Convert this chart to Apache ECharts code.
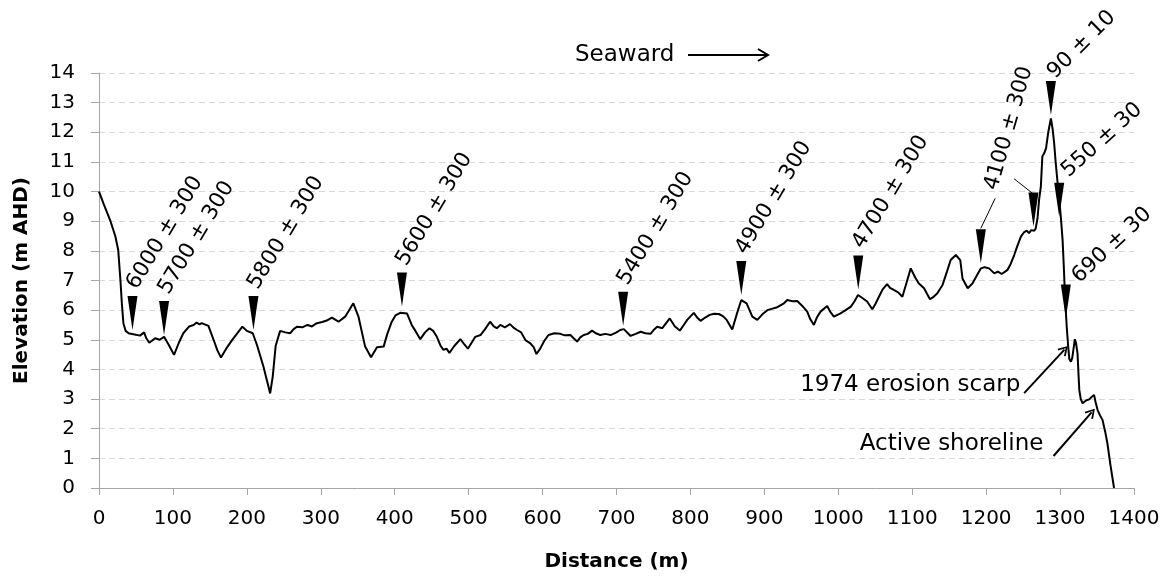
<!DOCTYPE html>
<html><head><meta charset="utf-8">
<script src="https://cdn.jsdelivr.net/npm/echarts@6/dist/echarts.min.js"></script>
<style>html,body{margin:0;padding:0;background:#fff}#c{width:1168px;height:577px}</style>
</head><body><div id="c"></div>
<script>
// Profile: distance (m) and elevation (m AHD)
const distance = [0,6,15,22,26,29,31,33,36,40,48,55.5,61,64,68,76,82,88,95,101.5,108,114,122,128,132,136,139,143,148,155,160,165,172,180,188,194,200,208,214,222.5,227,231.5,235,239,245,252,258.6,263,267.6,275,282,288,294.7,302,308,315,324,333,344,351,360,368,376,385,390,396,401,407.5,416.6,423,428,434.6,441,447,452,457,462,466,470,474,480.6,488.8,494,499,504,509,516,522,529,534,538,543,549,556,561,565.5,571,576.8,583.5,588,591.7,597,602,608,616,624,630,637.7,642,646.8,651,655.7,661,667,672,678,685,692,700,705,710,719,726,732.7,739,746,751,755,762,772,779,785.7,791,795.6,804.6,809,813.7,820,826,832,838.5,844,849,856.6,863,868.8,876,883.7,890.5,897,904,911,917.5,926.5,931,938,944.5,951,958,962,967,971,976,985,989,994,1003,1010,1017,1022,1026.7,1033,1039,1046,1050,1055,1060,1066,1070,1075,1081,1086.7,1092,1098,1104,1109,1116,1120,1124,1129,1134,1141,1147,1152,1159,1165,1168,1175,1181.5,1187,1193,1198,1204,1211,1216,1221,1229,1233,1238,1242,1247,1251,1255,1258,1261,1265,1267,1269.5,1271.6,1274,1276,1278.6,1281,1284,1287.6,1290,1292,1294,1296.7,1299,1301,1303.4,1305,1306.5,1309,1311,1312.5,1314.7,1316.5,1318,1320,1321.5,1323.6,1325,1326,1328,1330.5,1335,1339.4,1343,1346,1348,1350.8,1354,1357.5,1361,1364,1368,1373];
const elevation = [10.0,9.6,9.04,8.5,8.03,7.0,6.2,5.56,5.3,5.22,5.18,5.14,5.25,5.05,4.9,5.05,5.0,5.1,4.8,4.49,4.9,5.22,5.45,5.5,5.58,5.52,5.56,5.52,5.47,5.0,4.65,4.4,4.7,4.99,5.25,5.44,5.3,5.22,4.8,4.09,3.64,3.19,3.76,4.8,5.3,5.25,5.22,5.35,5.44,5.42,5.5,5.45,5.56,5.6,5.65,5.75,5.61,5.78,6.23,5.78,4.77,4.41,4.75,4.77,5.2,5.61,5.82,5.91,5.89,5.5,5.3,5.02,5.25,5.39,5.3,5.1,4.8,4.66,4.7,4.56,4.79,5.02,4.85,4.7,4.9,5.1,5.16,5.35,5.61,5.45,5.39,5.5,5.42,5.53,5.4,5.33,5.25,4.99,4.88,4.75,4.52,4.71,4.95,5.16,5.22,5.2,5.15,5.16,5.05,4.94,5.08,5.16,5.2,5.31,5.22,5.16,5.2,5.16,5.25,5.33,5.36,5.13,5.2,5.27,5.22,5.2,5.35,5.44,5.39,5.72,5.45,5.31,5.5,5.67,5.91,5.75,5.64,5.75,5.84,5.88,5.87,5.8,5.67,5.35,5.89,6.34,6.23,5.78,5.67,5.85,6.0,6.05,6.1,6.23,6.34,6.3,6.31,6.15,5.95,5.7,5.5,5.75,5.95,6.14,5.95,5.78,5.89,6.0,6.12,6.3,6.51,6.4,6.29,6.03,6.2,6.45,6.7,6.88,6.75,6.68,6.6,6.45,6.9,7.41,7.1,6.9,6.74,6.55,6.37,6.45,6.57,6.85,7.3,7.69,7.86,7.69,7.07,6.74,6.9,7.15,7.41,7.45,7.41,7.24,7.3,7.22,7.36,7.55,7.86,8.15,8.48,8.62,8.68,8.6,8.7,8.68,8.75,9.1,9.72,10.17,11.18,11.3,11.46,12.0,12.47,12.1,11.63,11.0,10.28,9.7,9.15,8.37,7.5,6.57,5.44,4.77,4.35,4.26,4.4,4.66,5.02,4.9,4.54,3.8,3.31,3.0,2.86,2.95,2.99,3.08,3.14,2.9,2.63,2.45,2.29,1.9,1.51,0.8,0];

// Dated sample markers (tip position on the profile) and their ages
const markerX = [45.3, 88, 208.9, 409.8, 709, 868.8, 1027, 1192.8, 1264, 1287.6, 1298.8, 1307.8];
const markerY = [5.33, 5.16, 5.33, 6.12, 5.47, 6.51, 6.7, 7.58, 8.82, 12.58, 9.15, 5.72];
const markerLabels = ['6000 ± 300','5700 ± 300','5800 ± 300','5600 ± 300','5400 ± 300','4900 ± 300','4700 ± 300','','','90 ± 10','550 ± 30','690 ± 30'];

// Shared label for two markers, with leader lines
const sharedLabel = '4100 ± 300';
const sharedLabelPos = [1222, 9.95];
const leaderLines = [[[1212.2, 9.77], [1192.8, 8.76]], [[1237.9, 10.43], [1262.8, 9.94]]];

// Annotations with arrows
const noteLabels = ['1974 erosion scarp', 'Active shoreline'];
const notePos = [[1246.9, 3.47], [1278.1, 1.45]];
const noteArrows = [[[1251.4, 3.2], [1305.9, 4.67]], [[1291.2, 1.08], [1342.6, 2.55]]];

const xTicks = {min: 0, max: 1400, interval: 100};
const yTicks = {min: 0, max: 14, interval: 1};

const FONT = 'DejaVu Sans';
const chevron = 'path://M0,9 L5,0 L10,9 L8.6,10 L5,3.2 L1.4,10 Z';

// label layout styles (rotation, offset from marker's top-left)
const labelLayout = {
  normal: {rotate: 59, position: [14, -3]},
  9: {rotate: 45, position: [13, 2]},
  10: {rotate: 42, position: [18, -1]},
  11: {rotate: 43, position: [22, 3]}
};

const markerData = markerX.map((x, i) => {
  const lay = labelLayout[i] || labelLayout.normal;
  return {value: [x, markerY[i]], label: {rotate: lay.rotate, position: lay.position}};
});

const chart = echarts.init(document.getElementById('c'), null, {renderer: 'canvas'});
chart.setOption({
  animation: false,
  backgroundColor: '#fff',
  grid: {left: 99, right: 34, top: 73, bottom: 89, containLabel: false},
  xAxis: {
    type: 'value', min: xTicks.min, max: xTicks.max, interval: xTicks.interval,
    name: 'Distance (m)', nameLocation: 'middle', nameGap: 64,
    nameTextStyle: {fontFamily: FONT, fontSize: 20, fontWeight: 'bold', color: '#000'},
    axisLine: {show: true, lineStyle: {color: '#a6a6a6', width: 1}},
    axisTick: {show: true, length: 7, lineStyle: {color: '#a6a6a6'}},
    axisLabel: {fontFamily: FONT, fontSize: 20, color: '#000', margin: 21, formatter: v => String(v)},
    splitLine: {show: false}
  },
  yAxis: {
    type: 'value', min: yTicks.min, max: yTicks.max, interval: yTicks.interval,
    name: 'Elevation (m AHD)', nameLocation: 'middle', nameGap: 67,
    nameTextStyle: {fontFamily: FONT, fontSize: 20, fontWeight: 'bold', color: '#000'},
    axisLine: {show: true, lineStyle: {color: '#a6a6a6', width: 1}},
    axisTick: {show: true, length: 8, lineStyle: {color: '#a6a6a6'}},
    axisLabel: {fontFamily: FONT, fontSize: 20, color: '#000', margin: 24, formatter: v => String(v)},
    splitLine: {show: true, lineStyle: {color: '#d9d9d9', type: [6, 4], width: 1}}
  },
  graphic: [
    {type: 'text', x: 575, y: 55, silent: true,
     style: {text: 'Seaward', fontFamily: FONT, fontSize: 23, fill: '#000', align: 'left', verticalAlign: 'middle'}},
    {type: 'line', silent: true, shape: {x1: 688, y1: 55, x2: 767, y2: 55}, style: {stroke: '#000', lineWidth: 2}},
    {type: 'polyline', silent: true, shape: {points: [[758, 49], [768, 55], [758, 61]]}, style: {stroke: '#000', lineWidth: 2, fill: null}}
  ],
  series: [
    {
      type: 'line', silent: true, showSymbol: false, symbol: 'none',
      data: distance.map((d, i) => [d, elevation[i]]),
      lineStyle: {color: '#000', width: 2},
      markLine: {
        silent: true, symbol: ['none', chevron], symbolSize: [11, 10],
        lineStyle: {color: '#000', width: 2, type: 'solid'},
        label: {show: false},
        data: noteArrows.map(a => [{coord: a[0]}, {coord: a[1]}])
      }
    },
    {
      type: 'line', silent: true, showSymbol: false, symbol: 'none', data: [],
      markLine: {
        silent: true, symbol: ['none', 'none'],
        lineStyle: {color: '#000', width: 1, type: 'solid'},
        label: {show: false},
        data: leaderLines.map(a => [{coord: a[0]}, {coord: a[1]}])
      }
    },
    {
      type: 'scatter', silent: true,
      data: markerData,
      symbol: 'path://M0,0 L10,0 L5,34 Z', symbolSize: [10, 34], symbolOffset: [0, '-50%'],
      symbolKeepAspect: false,
      itemStyle: {color: '#000', opacity: 1},
      label: {
        show: true, formatter: p => markerLabels[p.dataIndex],
        align: 'left', verticalAlign: 'bottom',
        fontFamily: FONT, fontSize: 21.5, color: '#000'
      }
    },
    {
      type: 'scatter', silent: true,
      data: [sharedLabelPos],
      symbolSize: 1, itemStyle: {color: 'rgba(0,0,0,0)', opacity: 1},
      label: {
        show: true, formatter: sharedLabel, position: [0, 0], rotate: 74,
        align: 'left', verticalAlign: 'bottom',
        fontFamily: FONT, fontSize: 21.5, color: '#000'
      }
    },
    {
      type: 'scatter', silent: true,
      data: notePos,
      symbolSize: 1, itemStyle: {color: 'rgba(0,0,0,0)', opacity: 1},
      label: {
        show: true, formatter: p => noteLabels[p.dataIndex], position: [0, 0],
        align: 'right', verticalAlign: 'middle',
        fontFamily: FONT, fontSize: 23, color: '#000'
      }
    }
  ]
});
</script>
</body></html>
